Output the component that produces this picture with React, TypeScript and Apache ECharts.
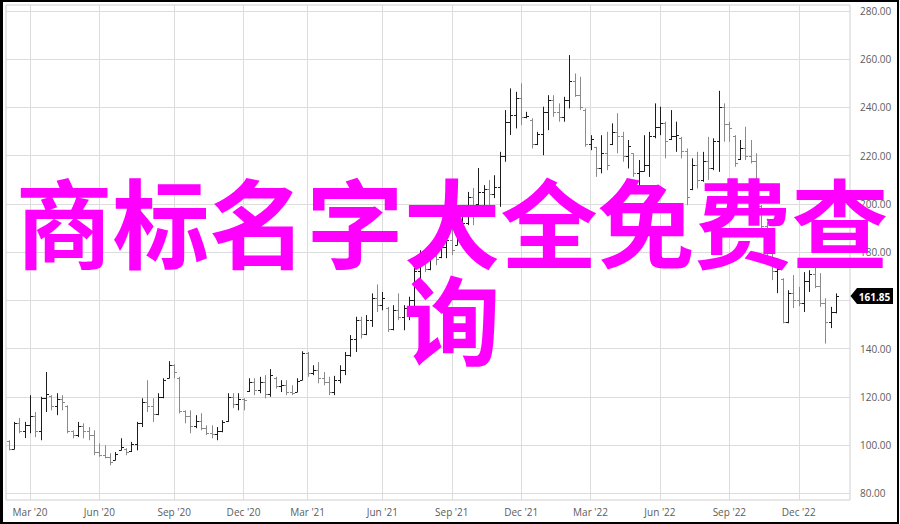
import React, { useEffect, useRef } from 'react';
import * as echarts from 'echarts';

// Weekly OHLC bars (one per week, Feb 2020 – Jan 2023)
const opens = [
  101.5, 98.5, 109, 106, 108.5, 112, 106, 119.5, 120.5, 116,
  119, 116, 106, 104, 108, 106, 104, 97, 96, 95,
  94, 98, 98.5, 97.5, 100.5, 109, 118, 116, 113, 120,
  128, 133, 128, 114, 112, 108, 110, 107, 105, 104.5,
  106, 110, 120, 117, 119, 122.5, 126, 123, 126, 121,
  128, 124.5, 125, 122, 122, 127, 138, 130, 131, 128,
  126, 122, 127, 131, 137.5, 144, 152, 146, 152, 161,
  158, 157, 148, 156, 153, 157, 160, 172, 177, 173,
  178.5, 178, 182, 185, 183, 191, 192, 203, 200, 205,
  206, 204, 207, 220, 234, 237, 244, 236, 235, 225,
  229, 238, 243, 238, 236, 243, 251, 245, 239, 225,
  223.5, 215, 221, 225, 230, 228, 220, 221, 213, 213.5,
  216, 228, 232, 233.5, 227, 228, 227.5, 222, 206, 216,
  210, 218, 215, 226, 240, 233, 228, 218.5, 223, 220,
  218, 199, 191, 178, 172, 169, 151, 163, 160, 159,
  168, 171, 166, 159, 151, 155,
];
const highs = [
  102.0, 109.6, 111.2, 109.6, 120.7, 113.7, 120.0, 130.3, 120.7, 121.5,
  120.7, 116.5, 106.1, 109.6, 109.0, 107.5, 106.1, 100.7, 99.9, 96.6,
  97.1, 102.8, 98.7, 101.3, 109.6, 119.4, 126.9, 119.4, 121.5, 127.7,
  134.8, 133.5, 128.3, 114.4, 114.4, 112.4, 113.2, 108.2, 108.2, 107.5,
  110.3, 121.5, 121.5, 121.5, 119.4, 127.7, 127.7, 128.3, 129.0, 131.5,
  128.3, 126.9, 126.9, 124.8, 127.7, 138.9, 138.6, 133.1, 134.4, 130.3,
  128.3, 128.7, 133.1, 138.6, 145.6, 153.2, 153.2, 153.9, 162.9, 166.6,
  163.5, 157.3, 158.0, 162.9, 158.0, 161.5, 173.4, 180.8, 177.5, 182.9,
  178.8, 182.9, 187.1, 191.2, 192.4, 194.9, 205.0, 206.6, 214.9, 207.8,
  209.9, 211.9, 221.6, 238.9, 247.9, 246.5, 250.0, 238.2, 235.5, 229.9,
  240.3, 245.1, 245.1, 241.7, 244.4, 261.7, 254.1, 252.7, 239.6, 228.5,
  223.7, 228.5, 229.9, 233.4, 237.6, 229.9, 226.5, 221.0, 218.2, 228.5,
  229.9, 241.7, 240.3, 234.1, 238.9, 234.1, 227.8, 223.0, 218.9, 221.6,
  221.6, 227.8, 227.2, 246.9, 241.7, 234.1, 228.5, 226.5, 232.0, 226.5,
  221.0, 199.5, 192.4, 180.8, 177.5, 169.2, 164.2, 170.5, 165.6, 171.7,
  172.5, 175.4, 171.3, 160.9, 157.3, 162.9,
];
const lows = [
  97.8, 98.3, 104.9, 102.9, 104.9, 103.3, 102.0, 113.7, 114.4, 112.4,
  114.4, 104.9, 102.8, 103.3, 102.8, 102.0, 95.8, 95.1, 94.5, 91.6,
  93.7, 97.8, 95.8, 97.1, 97.8, 107.5, 113.7, 109.6, 112.4, 119.4,
  127.7, 127.7, 113.1, 109.0, 104.9, 107.0, 106.1, 104.1, 102.8, 102.0,
  105.3, 109.6, 115.3, 114.4, 114.4, 122.0, 120.7, 121.5, 119.4, 120.0,
  123.4, 122.0, 120.7, 120.7, 122.0, 126.9, 128.3, 129.0, 125.6, 124.8,
  120.7, 120.7, 125.6, 129.0, 136.6, 138.6, 144.2, 145.6, 149.0, 155.2,
  155.9, 146.9, 147.6, 151.8, 147.6, 151.8, 156.8, 168.4, 171.7, 172.5,
  174.6, 177.5, 177.5, 178.8, 182.9, 190.8, 191.2, 191.2, 199.5, 198.3,
  199.5, 202.4, 198.8, 217.5, 228.6, 231.3, 232.7, 235.5, 223.0, 224.4,
  220.2, 230.6, 236.1, 234.1, 234.1, 239.6, 244.4, 238.9, 223.7, 222.3,
  211.2, 212.7, 214.0, 224.4, 221.0, 217.5, 214.7, 211.2, 207.1, 213.4,
  211.2, 227.2, 228.5, 218.9, 226.5, 221.6, 218.9, 199.5, 205.7, 206.4,
  209.2, 209.9, 214.0, 213.3, 225.8, 225.8, 215.4, 218.2, 218.2, 216.8,
  207.1, 188.3, 175.8, 168.4, 163.0, 150.5, 150.5, 156.8, 157.6, 155.2,
  163.5, 165.1, 157.3, 142.1, 148.5, 154.6,
];
const closes = [
  98.5, 109, 106, 108.5, 112, 106, 119.5, 121, 116, 119,
  118, 106, 104, 108, 106, 104, 97, 96, 95, 93,
  96.5, 99, 97, 100.5, 109, 118, 116, 113, 120, 127,
  133, 130.5, 114, 112, 108, 110, 107, 105, 104.5, 106,
  109.5, 120, 117, 119, 118.5, 126, 123, 126, 121, 129,
  124.5, 125, 122, 121.5, 126.5, 138, 130, 131, 128, 126,
  122, 127, 131, 137.5, 144, 152, 146, 152, 161, 158,
  161, 148, 156, 153, 157, 160, 172, 178, 173, 180,
  177, 182, 185, 181, 191, 192, 203, 199, 205, 206,
  204, 207, 220, 234, 237, 244, 236, 236.5, 225, 229,
  238, 243, 238, 236, 243, 251, 245, 240, 225, 227,
  215, 221, 216, 230, 228, 220, 224, 213, 213.5, 216,
  228, 232, 233.5, 226, 228, 228.5, 222, 203, 216, 210,
  218, 215, 226, 240, 233, 231.5, 217, 223, 220, 218,
  209, 191, 178, 172, 173, 151, 163, 160, 159, 168,
  171, 166, 159, 151, 155, 161.85,
];

// Week index of the first bar in each quarter month, and its label
const tickIndex = [4, 17, 31, 44, 56, 70, 83, 96, 109, 122, 135, 148];
const tickLabels = [
  "Mar '20", "Jun '20", "Sep '20", "Dec '20",
  "Mar '21", "Jun '21", "Sep '21", "Dec '21",
  "Mar '22", "Jun '22", "Sep '22", "Dec '22",
];
const yTicks = [80, 100, 120, 140, 160, 180, 200, 220, 240, 260, 280];
const overlayLines = ['商标名字大全免费查', '询'];

const UP = '#1c1c1c';
const DOWN = '#8a8a8a';
const GRID = '#dcdcdc';
const LABEL = '#5c5c5c';
const FONT = '"Open Sans", "Noto Sans", sans-serif';

export default function App() {
  const ref = useRef<HTMLDivElement>(null);

  useEffect(() => {
    const chart = echarts.init(ref.current!, null, { renderer: 'svg' });
    const data = closes.map((c, i) => [i, opens[i], highs[i], lows[i], c]);
    const lastIdx = data.length - 1;
    const lastClose = closes[lastIdx];
    // the last-price tag sits on top of the axis label nearest to it
    const yLabelValues = yTicks.filter((v) => Math.abs(v - lastClose) > 5);

    chart.setOption({
      animation: false,
      backgroundColor: '#ffffff',
      grid: {
        left: 6,
        right: 50,
        top: 5,
        bottom: 24,
        show: true,
        borderColor: '#cfcfcf',
        borderWidth: 1,
        backgroundColor: 'transparent',
      },
      xAxis: {
        type: 'value',
        min: -0.5,
        max: 157.6,
        axisLine: { show: false },
        axisTick: { show: false, customValues: tickIndex },
        splitLine: { show: true, lineStyle: { color: GRID, width: 1 } },
        axisLabel: {
          customValues: tickIndex,
          margin: 7,
          color: LABEL,
          fontSize: 10,
          fontFamily: FONT,
          formatter: (v: number) => {
            const k = tickIndex.indexOf(Math.round(v));
            return k >= 0 ? tickLabels[k] : '';
          },
        },
      },
      yAxis: {
        type: 'value',
        position: 'right',
        min: 77.22,
        max: 282.49,
        axisLine: { show: false },
        axisTick: { show: false, customValues: yTicks },
        splitLine: { show: true, lineStyle: { color: GRID, width: 1 } },
        axisLabel: {
          customValues: yLabelValues,
          margin: 10,
          color: LABEL,
          fontSize: 10,
          fontFamily: FONT,
          formatter: (v: number) => v.toFixed(2),
        },
      },
      series: [
        {
          type: 'custom',
          name: 'OHLC',
          data,
          encode: { x: 0, y: [1, 2, 3, 4] },
          renderItem: (params: any, api: any) => {
            const x = api.value(0);
            const o = api.value(1);
            const h = api.value(2);
            const l = api.value(3);
            const c = api.value(4);
            const pH = api.coord([x, h]);
            const pL = api.coord([x, l]);
            const pO = api.coord([x, o]);
            const pC = api.coord([x, c]);
            const color = c >= o ? UP : DOWN;
            const px = Math.round(pH[0]) + 0.5;
            const oy = Math.round(pO[1]) + 0.5;
            const cy = Math.round(pC[1]) + 0.5;
            const style = { stroke: color, lineWidth: 1 };
            return {
              type: 'group',
              children: [
                { type: 'line', shape: { x1: px, y1: pH[1], x2: px, y2: pL[1] }, style },
                { type: 'line', shape: { x1: px - 2.5, y1: oy, x2: px, y2: oy }, style },
                { type: 'line', shape: { x1: px, y1: cy, x2: px + 2.5, y2: cy }, style },
              ],
            };
          },
          z: 5,
        },
        {
          type: 'custom',
          name: 'last',
          clip: false,
          data: [[lastIdx, lastClose]],
          encode: { x: 0, y: 1 },
          renderItem: (params: any, api: any) => {
            const p = api.coord([api.value(0), api.value(1)]);
            const cs = params.coordSys;
            const x0 = cs.x + cs.width;
            const y = Math.round(p[1]);
            return {
              type: 'group',
              children: [
                {
                  type: 'polygon',
                  shape: {
                    points: [
                      [x0 + 0.5, y],
                      [x0 + 7, y - 8],
                      [x0 + 43, y - 8],
                      [x0 + 43, y + 8],
                      [x0 + 7, y + 8],
                    ],
                  },
                  style: { fill: '#000000' },
                },
                {
                  type: 'text',
                  x: x0 + 24.5,
                  y: y + 0.5,
                  style: {
                    text: Number(api.value(1)).toFixed(2),
                    fill: '#ffffff',
                    fontSize: 10,
                    fontWeight: 'bold',
                    fontFamily: FONT,
                    align: 'center',
                    verticalAlign: 'middle',
                    textAlign: 'center',
                    textVerticalAlign: 'middle',
                  },
                },
              ],
            };
          },
          z: 20,
        },
      ],
      graphic: [
        {
          type: 'rect',
          shape: { x: 1, y: 1, width: 897, height: 522 },
          style: { fill: 'none', stroke: '#000000', lineWidth: 2 },
          z: 50,
          silent: true,
        },
        {
          type: 'line',
          shape: { x1: 1.5, y1: 0, x2: 1.5, y2: 524 },
          style: { stroke: '#000000', lineWidth: 3 },
          z: 50,
          silent: true,
        },
        ...overlayLines.map((t, k) => ({
          type: 'text',
          x: 452,
          y: 218 + k * 97,
          z: 100,
          silent: true,
          style: {
            text: t,
            fill: '#ff00ff',
            fontSize: 97,
            fontWeight: 'bold',
            fontFamily: '"Noto Sans CJK SC", sans-serif',
            align: 'center',
            verticalAlign: 'middle',
            textAlign: 'center',
            textVerticalAlign: 'middle',
          },
        })),
      ],
    });

    return () => chart.dispose();
  }, []);

  return (
    <div
      ref={ref}
      style={{ position: 'absolute', left: 0, top: 0, width: 900, height: 524 }}
    />
  );
}
